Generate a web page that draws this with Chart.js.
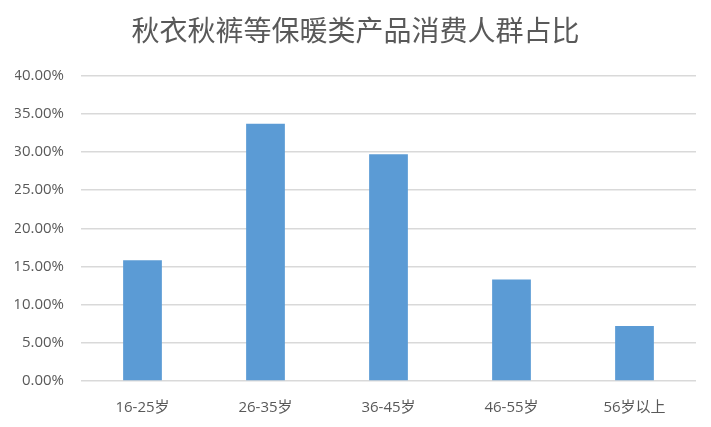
<!DOCTYPE html>
<html>
<head>
<meta charset="utf-8">
<script src="https://cdn.jsdelivr.net/npm/chart.js@4"></script>
<style>
  html, body { margin: 0; padding: 0; background: #ffffff; }
  #wrap { width: 711px; height: 427px; }
</style>
</head>
<body>
<div id="wrap"><canvas id="chart"></canvas></div>
<script>
// Age groups and their share of buyers
const ageGroups = ['16-25岁', '26-35岁', '36-45岁', '46-55岁', '56岁以上'];
const shares = [0.158, 0.337, 0.297, 0.133, 0.072];
const chartTitle = '秋衣秋裤等保暖类产品消费人群占比';

const fontFamily = "'Open Sans', 'Noto Sans CJK SC', sans-serif";
const textColor = '#595959';

new Chart(document.getElementById('chart'), {
    type: 'bar',
    data: {
        labels: ageGroups,
        datasets: [{
            data: shares,
            backgroundColor: '#5B9BD5',
            barPercentage: 0.63,
            categoryPercentage: 0.5
        }]
    },
    options: {
        responsive: true,
        maintainAspectRatio: false,
        animation: false,
        devicePixelRatio: 1,
        layout: {padding: {left: 15, right: 15, top: 0, bottom: 0}},
        plugins: {
            legend: {display: false},
            tooltip: {enabled: false},
            title: {
                display: true,
                text: chartTitle,
                color: textColor,
                font: {family: "'Noto Sans CJK SC', sans-serif", size: 28, weight: 'normal'},
                padding: {top: 14, bottom: 28}
            }
        },
        scales: {
            x: {
                grid: {display: false},
                border: {display: false},
                ticks: {
                    color: textColor,
                    font: {family: fontFamily, size: 15},
                    padding: 10
                },
                afterFit: scale => { scale.height = 46; }
            },
            y: {
                min: 0,
                max: 0.4,
                border: {display: false},
                grid: {color: '#d9d9d9', lineWidth: 1.5, drawTicks: false},
                ticks: {
                    stepSize: 0.05,
                    color: textColor,
                    font: {family: fontFamily, size: 15},
                    padding: 17,
                    callback: v => (v * 100).toFixed(2) + '%'
                },
                afterFit: scale => { scale.width = 66; }
            }
        }
    }
});
</script>
</body>
</html>
